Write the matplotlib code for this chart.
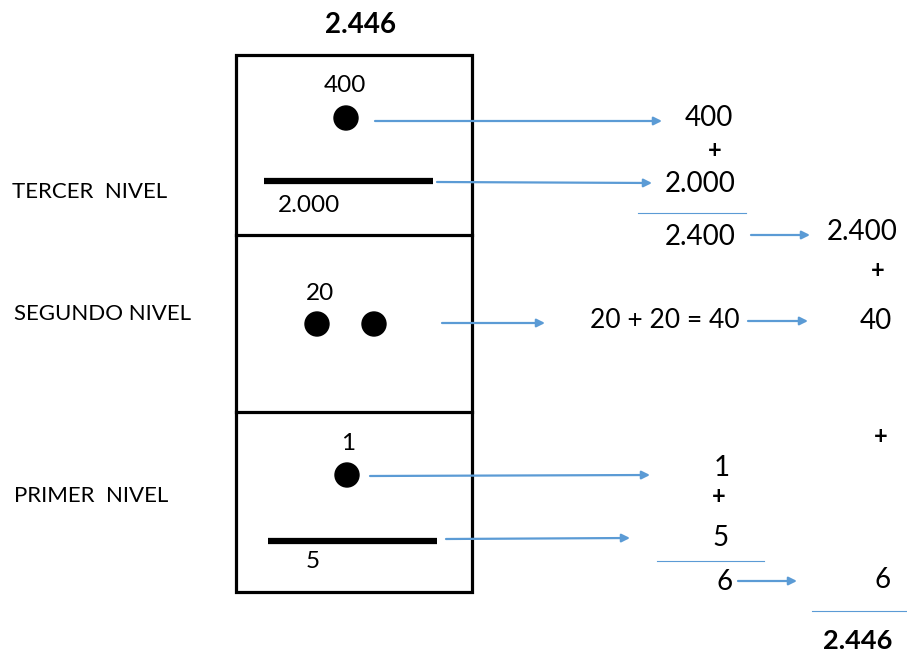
import matplotlib.pyplot as plt
from matplotlib.patches import Rectangle, Circle

plt.rcParams['font.family'] = ['Lato', 'DejaVu Sans']

# datos
niveles = ["TERCER  NIVEL", "SEGUNDO NIVEL", "PRIMER  NIVEL"]
valores_punto = ["400", "20", "1"]
valores_barra = ["2.000", "5"]
total = "2.446"
suma_tercer = ["400", "2.000", "2.400"]
suma_segundo = "20 + 20 = 40"
suma_primer = ["1", "5", "6"]
suma_final = ["2.400", "40", "6", total]

azul = "#5B9BD5"
fs_caja = 17.5
fs_der = 20
fs_mas = 17

fig = plt.figure(figsize=(9.07, 6.53), dpi=100)
ax = fig.add_axes([0, 0, 1, 1])
ax.set_xlim(0, 907)
ax.set_ylim(653, 0)
ax.axis("off")


def flecha(x0, y0, x1, y1):
    ax.annotate("", xy=(x1, y1), xytext=(x0, y0),
                arrowprops=dict(arrowstyle="-|>", color=azul, lw=1.6,
                                mutation_scale=12, shrinkA=0, shrinkB=0))


# caja
ax.add_patch(Rectangle((236, 55), 236, 537, fill=False, lw=2.3, ec="black"))
ax.plot([236, 472], [235, 235], color="black", lw=2.3)
ax.plot([236, 472], [412, 412], color="black", lw=2.3)
ax.text(360, 25, total, fontsize=20, fontweight="bold", ha="center", va="center")

# nombres de nivel
for name, x, y in zip(niveles, [12, 14, 14], [192, 314, 496]):
    ax.text(x, y, name, fontsize=16, ha="left", va="center")

# tercer nivel
ax.text(345, 85, valores_punto[0], fontsize=fs_caja, ha="center", va="center")
ax.add_patch(Circle((346, 118), 12, color="black"))
ax.plot([264, 433], [181, 181], color="black", lw=4.5, solid_capstyle="butt")
ax.text(309, 206, valores_barra[0], fontsize=fs_caja, ha="center", va="center")

# segundo nivel
ax.text(320, 293, valores_punto[1], fontsize=fs_caja, ha="center", va="center")
ax.add_patch(Circle((317, 324), 12, color="black"))
ax.add_patch(Circle((374, 324), 12, color="black"))

# primer nivel
ax.text(348, 443, valores_punto[2], fontsize=fs_caja, ha="center", va="center")
ax.add_patch(Circle((347, 475), 12, color="black"))
ax.plot([268, 437], [541, 541], color="black", lw=4.5, solid_capstyle="butt")
ax.text(313, 562, valores_barra[1], fontsize=fs_caja, ha="center", va="center")

# flechas
flecha(375, 121, 662, 121)
flecha(437, 182, 652, 183)
flecha(442, 323, 545, 323)
flecha(751, 235, 810, 235)
flecha(748, 321, 808, 321)
flecha(370, 476, 650, 475)
flecha(446, 539, 630, 538)
flecha(738, 581, 797, 581)

# suma tercer nivel
ax.text(709, 118, suma_tercer[0], fontsize=fs_der, ha="center", va="center")
ax.text(715, 150, "+", fontsize=fs_mas, fontweight="bold", ha="center", va="center")
ax.text(700, 184, suma_tercer[1], fontsize=fs_der, ha="center", va="center")
ax.plot([638, 746], [213, 213], color=azul, lw=0.8)
ax.text(700, 237, suma_tercer[2], fontsize=fs_der, ha="center", va="center")

# segundo nivel
ax.text(665, 321, suma_segundo, fontsize=19, ha="center", va="center")

# primer nivel
ax.text(722, 468, suma_primer[0], fontsize=fs_der, ha="center", va="center")
ax.text(719, 497, "+", fontsize=fs_mas, fontweight="bold", ha="center", va="center")
ax.text(721, 538, suma_primer[1], fontsize=fs_der, ha="center", va="center")
ax.plot([657, 764], [561, 561], color=azul, lw=0.8)
ax.text(725, 582, suma_primer[2], fontsize=fs_der, ha="center", va="center")

# suma final
ax.text(862, 232, suma_final[0], fontsize=fs_der, ha="center", va="center")
ax.text(878, 271, "+", fontsize=fs_mas, fontweight="bold", ha="center", va="center")
ax.text(876, 321, suma_final[1], fontsize=fs_der, ha="center", va="center")
ax.text(881, 436, "+", fontsize=fs_mas, fontweight="bold", ha="center", va="center")
ax.text(883, 580, suma_final[2], fontsize=fs_der, ha="center", va="center")
ax.plot([812, 907], [611, 611], color=azul, lw=0.8)
ax.text(858, 641, suma_final[3], fontsize=19.5, fontweight="bold", ha="center", va="center")

fig.savefig("out.png", dpi=100)
